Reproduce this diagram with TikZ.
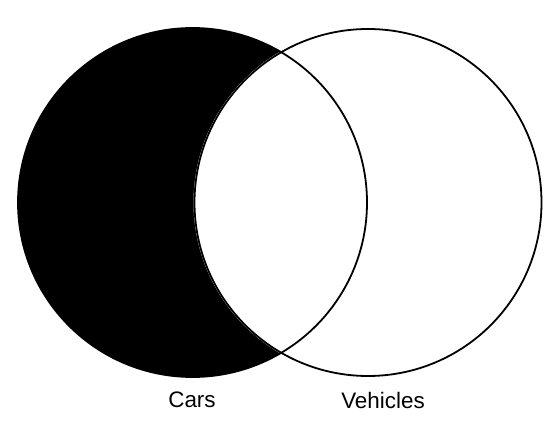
\documentclass[tikz,border=0pt]{standalone}
\usepackage{fontspec}
\setmainfont{Liberation Sans}
\begin{document}
\begin{tikzpicture}[x=1bp,y=-1bp,
  ring/.style={line width=1.8bp,draw=black},
  lbl/.style={font=\fontsize{22.5}{26}\selectfont,inner sep=0pt}]
\useasboundingbox (0,0) rectangle (557,443);
\coordinate (c1) at (192.5,202.5);
\coordinate (c2) at (368,202.5);
\fill[black] (c1) circle[radius=174.5];
\begin{scope}
  \clip (c1) circle[radius=174.5];
  \fill[white] (c2) circle[radius=174.5];
\end{scope}
\draw[ring] (c1) circle[radius=174.5];
\draw[ring] (c2) circle[radius=173.5];
\node[lbl] (cars) at (192,400) {Cars};
\node[lbl] (veh) at (383,400) {Vehicles};
\end{tikzpicture}
\end{document}
